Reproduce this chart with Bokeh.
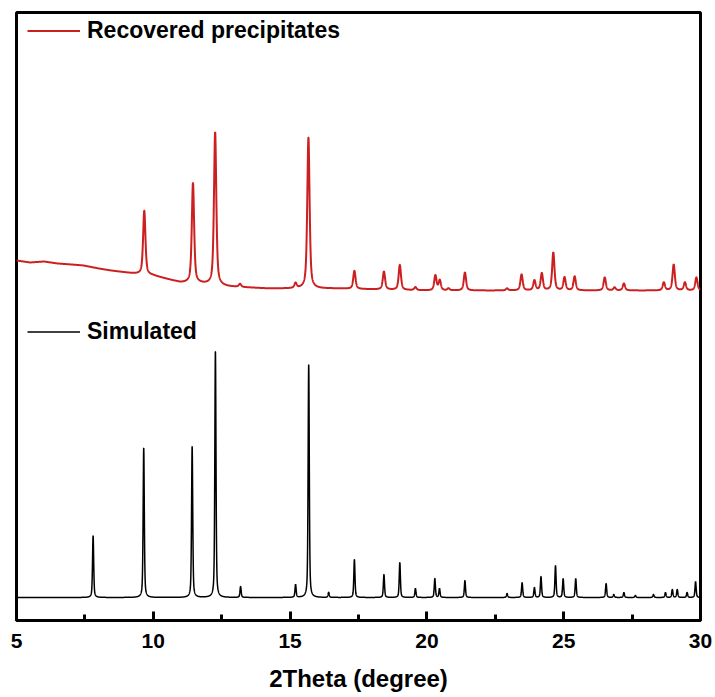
import numpy as np
from bokeh.plotting import figure
from bokeh.models import Range1d, SingleIntervalTicker, Legend, LegendItem
from bokeh.embed import file_html
from bokeh.resources import INLINE

# ---- data (intensity in arbitrary units) ----
sim_pos = [7.80, 9.65, 11.42, 12.27, 13.19, 15.20, 15.68, 16.41, 17.35, 18.43, 19.01,
           19.58, 20.29, 20.46, 21.39, 22.93, 23.48, 23.93, 24.17, 24.70, 24.98, 25.44,
           26.55, 26.83, 27.20, 27.62, 28.28, 28.72, 28.97, 29.15, 29.51, 29.82]
sim_int = [62, 150, 151, 247, 11, 13, 233, 5, 38, 23, 35,
           9, 19, 9, 17, 4, 15, 10, 21, 32, 19, 19,
           14, 3, 5, 2, 3, 5, 8, 8, 5, 16]
sim_offset = 23

red_pos = [9.67, 11.45, 12.26, 13.17, 15.20, 15.67, 17.35, 18.43, 19.01, 19.58, 20.31,
           20.47, 20.79, 21.39, 22.93, 23.46, 23.93, 24.20, 24.62, 25.03, 25.40, 26.50,
           26.86, 27.20, 28.66, 29.02, 29.43, 29.85]
red_int = [64, 100, 153, 3, 5, 151, 18, 18, 25, 3, 15,
           10, 2, 18, 2, 16, 10, 17, 38, 13, 14, 13,
           3, 7, 8, 26, 8, 13]
red_bg_x = [5.0, 5.5, 6.0, 6.5, 7.0, 7.45, 8.0, 8.44, 9.28, 10.0, 11.0, 11.7, 12.7, 14.2, 16.6, 20.0, 30.0]
red_bg_y = [360, 358, 359, 357, 356, 355, 352, 350, 347, 345, 338, 337, 334, 332, 332, 330, 330]

x_ticks_interval = 5


def profile(x, pos, inten, fwhm, eta=0.5):
    y = np.zeros_like(x)
    for p0, h in zip(pos, inten):
        d = (x - p0) / fwhm
        y += h * (eta / (1 + 4 * d * d) + (1 - eta) * np.exp(-4 * np.log(2) * d * d))
    return y


x = np.arange(5.0, 30.0001, 0.004)
y_sim = sim_offset + profile(x, sim_pos, sim_int, 0.05)
y_red = np.interp(x, red_bg_x, red_bg_y) + profile(x, red_pos, red_int, 0.1, 0.6)

p = figure(width=715, height=697, output_backend="svg", toolbar_location=None,
           x_range=Range1d(5, 30), y_range=Range1d(0, 608),
           min_border_left=16, min_border_right=15, min_border_top=12, min_border_bottom=77)
p.frame_width = 684
p.frame_height = 608

p.xgrid.visible = False
p.ygrid.visible = False
p.yaxis.visible = False
p.outline_line_color = "black"
p.outline_line_width = 3
p.outline_line_alpha = 1

r_red = p.line(x, y_red, line_color="#cc1f1f", line_width=2)
r_sim = p.line(x, y_sim, line_color="black", line_width=1.5)

ax = p.xaxis[0]
ax.ticker = SingleIntervalTicker(interval=x_ticks_interval, num_minor_ticks=2)
ax.major_tick_in = 9
ax.major_tick_out = 0
ax.minor_tick_in = 6
ax.minor_tick_out = 0
ax.major_tick_line_width = 3
ax.minor_tick_line_width = 3
ax.axis_line_width = 3
ax.major_label_text_font = "Liberation Sans"
ax.major_label_text_font_style = "bold"
ax.major_label_text_font_size = "21px"
ax.major_label_text_color = "black"
ax.major_label_standoff = 13
ax.axis_label = "2Theta (degree)"
ax.axis_label_text_font = "Liberation Sans"
ax.axis_label_text_font_style = "bold"
ax.axis_label_text_font_size = "24px"
ax.axis_label_text_color = "black"
ax.axis_label_standoff = 14


def make_legend(label, renderer, loc):
    lg = Legend(items=[LegendItem(label=label, renderers=[renderer])], location=loc,
                glyph_width=53, glyph_height=23, label_height=23, label_standoff=7,
                padding=0, margin=0, spacing=0,
                border_line_color=None, background_fill_alpha=0,
                label_text_font="Liberation Sans", label_text_font_style="bold",
                label_text_font_size="23px", label_text_color="black")
    return lg


p.add_layout(make_legend("Recovered precipitates", r_red, (11, 576)), "center")
p.add_layout(make_legend("Simulated", r_sim, (11, 275)), "center")

open("out.html", "w").write(file_html(p, INLINE))
